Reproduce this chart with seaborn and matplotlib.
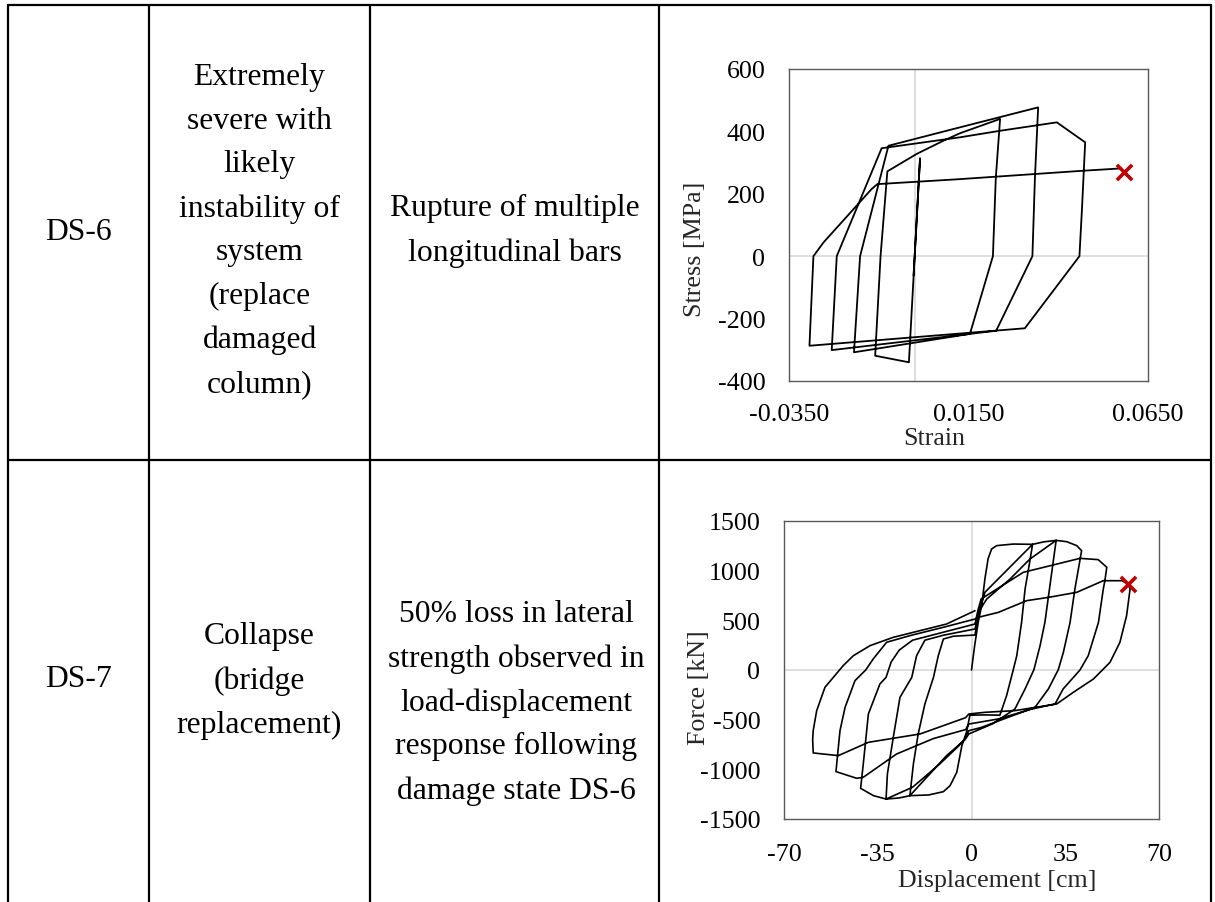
import numpy as np
import pandas as pd
import matplotlib
matplotlib.use("Agg")
import matplotlib.pyplot as plt
from matplotlib.lines import Line2D
import seaborn as sns

# ---------------------------------------------------------------------------
# Table text
# ---------------------------------------------------------------------------
state_ids = ["DS-6", "DS-7"]
state_descriptions = [
    "Extremely\nsevere with\nlikely\ninstability of\nsystem\n(replace\ndamaged\ncolumn)",
    "Collapse\n(bridge\nreplacement)",
]
state_criteria = [
    "Rupture of multiple\nlongitudinal bars",
    "50% loss in lateral\nstrength observed in\nload-displacement\nresponse following\ndamage state DS-6",
]

# ---------------------------------------------------------------------------
# DS-6: steel bar stress-strain history (strain, stress [MPa]), branch by branch
# ---------------------------------------------------------------------------
steel_first_cycle = [(-0.0003, -62), (0.0015, 314), (-0.0016, -340), (-0.0110, -319)]
steel_reload_2 = [(-0.0095, 0), (-0.0076, 272), (0.0006, 328), (0.0080, 370),
                  (0.0126, 394), (0.0238, 440)]
steel_unload_2 = [(0.0226, 250), (0.0218, 0), (0.0154, -249), (-0.0169, -308)]
steel_reload_3 = [(-0.0152, 0), (-0.0073, 354), (0.0126, 413), (0.0344, 477)]
steel_unload_3 = [(0.0335, 250), (0.0328, 0), (0.0227, -239), (-0.0231, -301)]
steel_reload_4 = [(-0.0217, 0), (-0.0092, 346), (0.0126, 381), (0.0238, 402),
                  (0.0396, 429), (0.0475, 365)]
steel_unload_4 = [(0.0466, 150), (0.0459, 0), (0.0307, -231), (-0.0293, -287)]
steel_final = [(-0.0282, 0), (-0.0254, 44), (-0.0120, 215), (-0.0104, 231),
               (0.0126, 247), (0.0470, 274), (0.0570, 281)]
steel_rupture = (0.0582, 270)

# ---------------------------------------------------------------------------
# DS-7: column force-displacement history (displacement [cm], force [kN])
# ---------------------------------------------------------------------------
col_virgin = [(0, 0), (1.2, 250), (2.5, 480), (3.8, 650), (5.0, 916), (6.2, 1120),
              (7.5, 1218), (9.4, 1252), (15.6, 1268), (22.8, 1265)]
col_unload_1 = [(21.5, 1050), (20.0, 815), (18.7, 480), (16.9, 144), (15.6, 3),
                (13.1, -258), (10.6, -455), (5.0, -452), (-0.6, -455)]
col_neg_virgin = [(-1.8, -620), (-3.6, -762), (-5.5, -1030), (-8.0, -1164),
                  (-10.5, -1225), (-16.0, -1258), (-23.0, -1265)]
col_neg_unload_1 = [(-21.7, -946), (-19.9, -644), (-17.4, -342), (-14.2, -74),
                    (-12.4, 144), (-10.5, 312), (-6.8, 340), (1.3, 352)]
col_reload_2 = [(2.6, 560), (5.0, 782), (22.8, 1265), (27.0, 1290), (31.6, 1305)]
col_unload_2 = [(30.3, 1050), (29.1, 815), (27.4, 480), (25.6, 245), (23.3, 3),
                (20.0, -191), (16.2, -393), (8.0, -540), (2.0, -610), (-1.0, -644)]
col_neg_reload_2 = [(-2.4, -700), (-9.3, -862), (-23.0, -1265), (-27.0, -1288),
                    (-31.9, -1299)]
col_neg_unload_2 = [(-31.4, -1047), (-29.2, -678), (-26.7, -275), (-22.3, -74),
                    (-20.5, 144), (-17.4, 300), (-10.5, 350), (1.3, 413)]
col_reload_3 = [(3.0, 600), (5.7, 715), (14.4, 916), (21.8, 1117), (31.6, 1305),
                (35.5, 1292), (39.3, 1252), (41.1, 1201)]
col_unload_3 = [(39.8, 1000), (38.6, 815), (36.8, 480), (34.3, 178), (32.4, 3),
                (28.7, -191), (23.7, -376), (13.7, -476), (3.8, -577), (-1.0, -611)]
col_neg_reload_3 = [(-2.6, -700), (-5.0, -770), (-12.0, -950), (-22.0, -1180),
                    (-31.9, -1299), (-36.6, -1265), (-41.4, -1191)]
col_neg_unload_3 = [(-40.4, -946), (-38.5, -443), (-34.2, -141), (-31.9, -74),
                    (-30.0, 80), (-27.0, 200), (-22.0, 300), (-12.0, 370), (1.3, 463)]
col_reload_4 = [(2.4, 600), (3.6, 715), (19.3, 983), (40.5, 1124), (47.3, 1111),
                (50.5, 1034)]
col_unload_4 = [(49.8, 900), (49.2, 815), (47.4, 480), (43.6, 145), (40.5, 0),
                (34.2, -191), (31.2, -342), (22.5, -393), (10.0, -493), (-1.0, -544)]
col_neg_reload_4 = [(-2.2, -600), (-14.2, -690), (-28.0, -846), (-40.4, -1080),
                    (-42.9, -1090), (-50.6, -1023)]
col_neg_unload_4 = [(-49.1, -611), (-47.2, -376), (-43.5, -107), (-39.5, 0),
                    (-36.7, 111), (-31.7, 279), (-23.0, 346), (-10.5, 430), (1.3, 513)]
col_reload_5 = [(2.5, 530), (10.0, 580), (20.6, 698), (28.7, 731), (39.3, 782),
                (49.2, 899), (56.1, 899), (58.5, 866)]
col_unload_5 = [(59.2, 815), (57.9, 547), (55.4, 278), (51.7, 77), (45.5, -91),
                (38.0, -225), (31.8, -342), (16.2, -409), (5.0, -426), (-1.0, -443)]
col_neg_reload_5 = [(-2.2, -480), (-19.2, -644), (-38.5, -728), (-49.7, -862),
                    (-59.1, -835)]
col_neg_unload_5 = [(-59.3, -700), (-59.1, -611), (-57.8, -409), (-54.7, -174),
                    (-51.6, -74), (-47.9, 44), (-44.1, 144), (-37.9, 245),
                    (-29.2, 329), (-19.2, 396), (-9.3, 463), (1.3, 597)]
col_failure = (58.5, 866)

steel_branches = [steel_first_cycle, steel_reload_2, steel_unload_2, steel_reload_3,
                  steel_unload_3, steel_reload_4, steel_unload_4, steel_final]
column_branches = [col_virgin, col_unload_1, col_neg_virgin, col_neg_unload_1,
                   col_reload_2, col_unload_2, col_neg_reload_2, col_neg_unload_2,
                   col_reload_3, col_unload_3, col_neg_reload_3, col_neg_unload_3,
                   col_reload_4, col_unload_4, col_neg_reload_4, col_neg_unload_4,
                   col_reload_5, col_unload_5, col_neg_reload_5, col_neg_unload_5]


def history(branches, xname, yname):
    pts = [p for b in branches for p in b]
    df = pd.DataFrame(pts, columns=[xname, yname])
    df["step"] = np.arange(len(df))
    return df


steel = history(steel_branches, "strain", "stress")
column = history(column_branches, "disp", "force")

# ---------------------------------------------------------------------------
# Figure
# ---------------------------------------------------------------------------
sns.set_theme(style="white")
plt.rcParams["font.family"] = ["Liberation Serif", "DejaVu Serif"]
plt.rcParams["axes.unicode_minus"] = False

W, H = 1215, 903
fig = plt.figure(figsize=(W / 100, H / 100), dpi=100)
fig.patch.set_facecolor("white")


def fx(px):
    return px / W


def fy(py):
    return 1 - py / H


# table grid
rule = dict(color="black", lw=1.6, solid_capstyle="butt")
for xv in [8, 149, 370, 659, 1211]:
    fig.add_artist(Line2D([fx(xv), fx(xv)], [fy(6), fy(903)], **rule))
for yv in [6, 461]:
    fig.add_artist(Line2D([fx(7.2), fx(1211.8)], [fy(yv), fy(yv)], **rule))

cell_font = dict(fontsize=22.8, ha="center", va="center", multialignment="center",
                 linespacing=1.66, color="black")
fig.text(fx(78.7), fy(232), state_ids[0], **cell_font)
fig.text(fx(259.5), fy(231), state_descriptions[0], **cell_font)
fig.text(fx(514.5), fy(231), state_criteria[0], **cell_font)
fig.text(fx(78.7), fy(680), state_ids[1], **cell_font)
fig.text(fx(259.5), fy(681), state_descriptions[1], **cell_font)
fig.text(fx(516), fy(703), state_criteria[1], **cell_font)

tick_fs = 18.7
spine_color = "#595959"
zero_color = "#d9d9d9"


def style_axes(ax, xlab, ylab, xlab_pos, ylab_pos, xpad):
    ax.set_facecolor("white")
    for s in ax.spines.values():
        s.set_color(spine_color)
        s.set_linewidth(1.0)
        s.set_visible(True)
    ax.tick_params(axis="both", length=0, labelsize=tick_fs, colors="black")
    ax.tick_params(axis="y", pad=17)
    ax.tick_params(axis="x", pad=xpad)
    ax.set_xlabel(xlab, fontsize=tick_fs, va="center", ha="center")
    ax.set_ylabel(ylab, fontsize=tick_fs, va="center", ha="center")
    ax.xaxis.set_label_coords(*xlab_pos)
    ax.yaxis.set_label_coords(*ylab_pos)
    ax.grid(False)


# DS-6 stress-strain
ax1 = fig.add_axes([789 / W, 1 - 382 / H, 359 / W, 312 / H])
ax1.axhline(0, color=zero_color, lw=1.2, zorder=0)
ax1.axvline(0, color=zero_color, lw=1.2, zorder=0)
sns.lineplot(data=steel, x="strain", y="stress", sort=False, estimator=None,
             color="black", lw=1.3, ax=ax1)
sns.scatterplot(x=[steel_rupture[0]], y=[steel_rupture[1]], marker="x", s=120,
                color="#c00000", linewidth=2.6, ax=ax1, zorder=5)
ax1.set_xlim(-0.035, 0.065)
ax1.set_ylim(-400, 600)
strain_ticks = [-0.035, 0.015, 0.065]
ax1.set_xticks(strain_ticks)
ax1.set_xticklabels([f"{v:.4f}" for v in strain_ticks])
ax1.set_yticks(np.arange(-400, 601, 200))
style_axes(ax1, "Strain", "Stress [MPa]", (0.405, -0.182), (-0.262, 0.426), 16)

# DS-7 force-displacement
ax2 = fig.add_axes([784 / W, 1 - 820 / H, 375 / W, 298 / H])
ax2.axhline(0, color=zero_color, lw=1.2, zorder=0)
ax2.axvline(0, color=zero_color, lw=1.2, zorder=0)
sns.lineplot(data=column, x="disp", y="force", sort=False, estimator=None,
             color="black", lw=1.2, ax=ax2)
sns.scatterplot(x=[col_failure[0]], y=[col_failure[1]], marker="x", s=120,
                color="#c00000", linewidth=2.6, ax=ax2, zorder=5)
ax2.set_xlim(-70, 70)
ax2.set_ylim(-1500, 1500)
ax2.set_xticks([-70, -35, 0, 35, 70])
ax2.set_yticks(np.arange(-1500, 1501, 500))
style_axes(ax2, "Displacement [cm]", "Force [kN]", (0.568, -0.205), (-0.227, 0.445), 17.5)

fig.savefig("out.png", dpi=100, facecolor="white")
